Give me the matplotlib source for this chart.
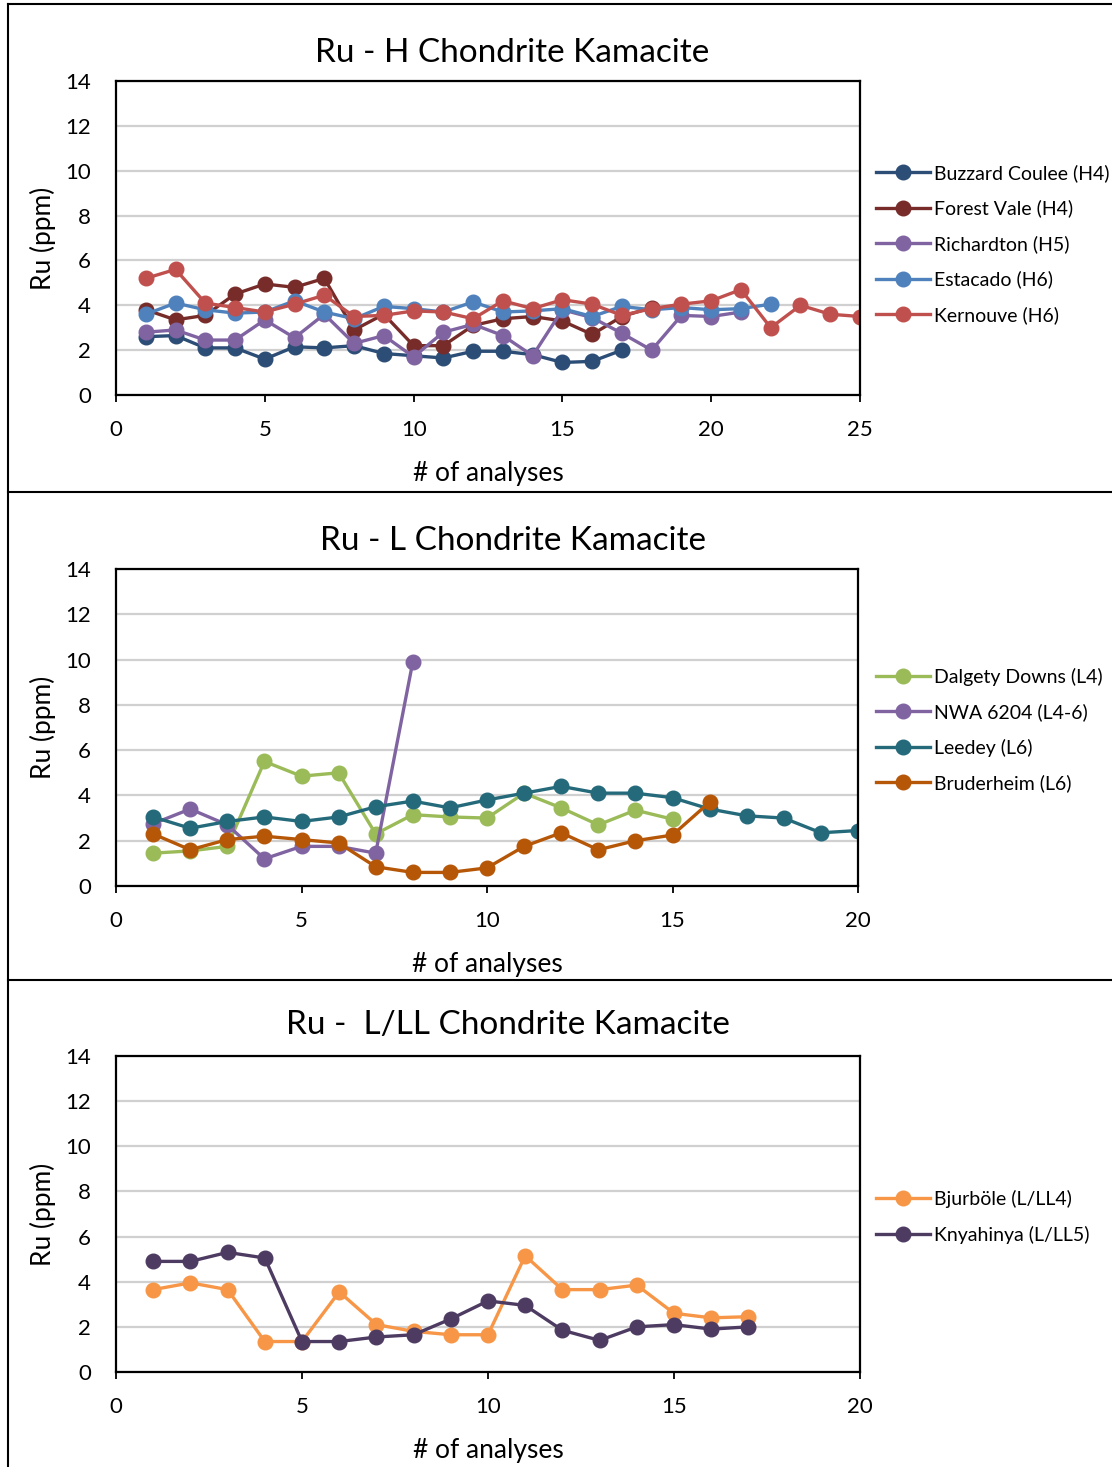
import numpy as np
import matplotlib.pyplot as plt
from matplotlib.lines import Line2D

plt.rcParams['font.family'] = ['Lato', 'DejaVu Sans']

# H chondrites
buzzard = [2.6, 2.65, 2.1, 2.1, 1.6, 2.15, 2.1, 2.2, 1.85, 1.75, 1.65, 1.95, 1.95, 1.8, 1.45, 1.5, 2.0]
forest_vale = [3.8, 3.35, 3.55, 4.5, 4.95, 4.8, 5.2, 2.9, 3.6, 2.2, 2.2, 3.1, 3.4, 3.5, 3.3, 2.7, 3.5, 3.9]
richardton = [2.8, 2.9, 2.45, 2.45, 3.35, 2.55, 3.6, 2.3, 2.65, 1.7, 2.8, 3.15, 2.65, 1.75, 3.8, 3.45, 2.75, 2.0, 3.55, 3.5, 3.7]
estacado = [3.6, 4.1, 3.8, 3.65, 3.7, 4.2, 3.7, 3.4, 3.95, 3.85, 3.7, 4.15, 3.7, 3.75, 3.85, 3.5, 3.95, 3.8, 3.9, 3.8, 3.85, 4.05]
kernouve = [5.2, 5.6, 4.1, 3.9, 3.7, 4.05, 4.45, 3.5, 3.55, 3.75, 3.7, 3.4, 4.2, 3.85, 4.25, 4.05, 3.55, 3.85, 4.05, 4.2, 4.7, 3.0, 4.0, 3.6, 3.5]

# L chondrites
dalgety = [1.45, 1.55, 1.75, 5.5, 4.85, 5.0, 2.3, 3.15, 3.05, 3.0, 4.1, 3.45, 2.7, 3.35, 2.95]
nwa6204 = [2.75, 3.4, 2.7, 1.2, 1.75, 1.75, 1.45, 9.9]
leedey = [3.05, 2.55, 2.85, 3.05, 2.85, 3.05, 3.5, 3.75, 3.45, 3.8, 4.1, 4.4, 4.1, 4.1, 3.9, 3.4, 3.1, 3.0, 2.35, 2.45]
bruderheim = [2.3, 1.6, 2.05, 2.2, 2.05, 1.9, 0.85, 0.6, 0.6, 0.8, 1.75, 2.35, 1.6, 2.0, 2.25, 3.7]

# L/LL chondrites
bjurbole = [3.65, 3.95, 3.65, 1.35, 1.35, 3.55, 2.1, 1.8, 1.65, 1.65, 5.15, 3.65, 3.65, 3.85, 2.6, 2.4, 2.45]
knyahinya = [4.9, 4.9, 5.3, 5.05, 1.35, 1.35, 1.55, 1.65, 2.35, 3.15, 2.95, 1.85, 1.4, 2.0, 2.1, 1.9, 2.0]

panels = [
    {'title': 'Ru - H Chondrite Kamacite', 'xmax': 25,
     'series': [('Buzzard Coulee (H4)', buzzard, '#2C4D75'),
                ('Forest Vale (H4)', forest_vale, '#772C2A'),
                ('Richardton (H5)', richardton, '#8064A2'),
                ('Estacado (H6)', estacado, '#4F81BD'),
                ('Kernouve (H6)', kernouve, '#C0504D')],
     'rect': [116, 81, 860, 395], 'leg_y': 244, 'title_x': 512, 'title_y': 53},
    {'title': 'Ru - L Chondrite Kamacite', 'xmax': 20,
     'series': [('Dalgety Downs (L4)', dalgety, '#9BBB59'),
                ('NWA 6204 (L4-6)', nwa6204, '#8064A2'),
                ('Leedey (L6)', leedey, '#256A7B'),
                ('Bruderheim (L6)', bruderheim, '#B65708')],
     'rect': [116, 569, 858, 886], 'leg_y': 730, 'title_x': 513, 'title_y': 541},
    {'title': 'Ru -  L/LL Chondrite Kamacite', 'xmax': 20,
     'series': [('Bjurböle (L/LL4)', bjurbole, '#F79646'),
                ('Knyahinya (L/LL5)', knyahinya, '#4D3B62')],
     'rect': [116, 1056, 860, 1372], 'leg_y': 1217, 'title_x': 508, 'title_y': 1025},
]

W, H = 1112, 1467
fig = plt.figure(figsize=(W / 100, H / 100), dpi=100)

for p in panels:
    l, t, r, b = p['rect']
    ax = fig.add_axes([l / W, 1 - b / H, (r - l) / W, (b - t) / H])
    for name, vals, col in p['series']:
        x = np.arange(1, len(vals) + 1)
        ax.plot(x, vals, color=col, lw=2.4, marker='o', ms=10.5, label=name)
    ax.set_xlim(0, p['xmax'])
    ax.set_ylim(0, 14)
    ax.set_xticks(np.arange(0, p['xmax'] + 1, 5))
    ax.set_yticks(np.arange(0, 15, 2))
    ax.grid(axis='y', color='#D0D0D0', lw=1.6)
    ax.set_axisbelow(True)
    for s in ax.spines.values():
        s.set_linewidth(1.6)
    ax.tick_params(axis='x', direction='out', length=5, width=1.3, labelsize=16, pad=13)
    ax.tick_params(axis='y', length=0, labelsize=16, pad=18)
    ax.set_xlabel('# of analyses', fontsize=19, labelpad=15)
    ax.set_ylabel('Ru (ppm)', fontsize=19, labelpad=7)
    fig.text(p['title_x'] / W, 1 - p['title_y'] / H, p['title'], fontsize=24,
             ha='center', va='center')
    ax.legend(loc='center left', bbox_to_anchor=(876 / W, 1 - p['leg_y'] / H),
              bbox_transform=fig.transFigure, frameon=False, fontsize=14,
              handlelength=2.8, handletextpad=0.2, labelspacing=0.9,
              borderpad=0, borderaxespad=0)

# panel frames
frame = dict(color='black', lw=1.5, transform=fig.transFigure)
fig.add_artist(Line2D([8 / W, 8 / W], [0, 1 - 4 / H], **frame))
fig.add_artist(Line2D([8 / W, 1], [1 - 4 / H, 1 - 4 / H], **frame))
for yy in (492, 980):
    fig.add_artist(Line2D([8 / W, 1], [1 - yy / H, 1 - yy / H], **frame))

fig.savefig('out.png', dpi=100)
